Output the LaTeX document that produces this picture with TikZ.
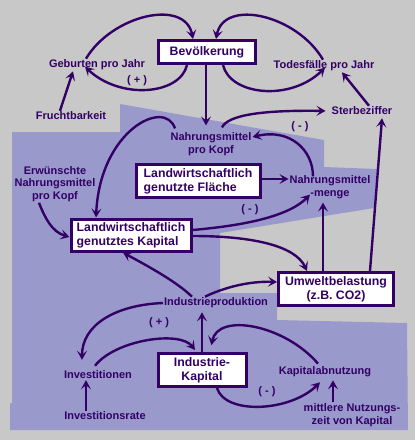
\documentclass[tikz,border=0pt]{standalone}
\usepackage{fontspec}
\setmainfont{Liberation Sans}
\usetikzlibrary{arrows.meta,calc}
\definecolor{bggray}{RGB}{200,200,200}
\definecolor{areablue}{RGB}{153,153,204}
\definecolor{ink}{RGB}{51,0,102}

\tikzset{
  box/.style={draw=ink,line width=3pt,fill=white,text=ink,inner sep=1pt,
    font=\fontsize{12.3}{14}\selectfont\bfseries},
  lbl/.style={text=ink,inner sep=1pt,align=center,
    font=\fontsize{11}{12.5}\selectfont\bfseries},
  arr/.style={draw=ink,line width=2.4pt,-{Stealth[length=9pt,width=10pt,inset=4pt]}},
}

\begin{document}
\begin{tikzpicture}[x=1pt,y=-1pt]
    % Background
    \useasboundingbox (0,0) rectangle (415,440);
    \fill[bggray] (0,0) rectangle (415,440);
    \fill[areablue] (12,132) -- (120,132) -- (120,104) -- (324,140) -- (324,167)
        -- (377,169) -- (374,208) -- (220,233) -- (220,293) -- (277,293) -- (277,320)
        -- (407,323) -- (408,430) -- (10,430) -- (10,403) -- (12,403) -- cycle;

    % Population
    \node[box,minimum width=97pt,minimum height=23pt] (bev) at (207,52) {Bevölkerung};
    \node[lbl] (geb) at (97,65) {Geburten pro Jahr};
    \node[lbl] (tod) at (324,66) {Todesfälle pro Jahr};
    \node[lbl] (plusbev) at (137,81) {( + )};
    \node[lbl] (frucht) at (71,116) {Fruchtbarkeit};
    \node[lbl] (sterb) at (362,111) {Sterbeziffer};
    \node[lbl] (minussterb) at (300,127) {( - )};

    % Food
    \node[lbl] (nkopf) at (211,144) {Nahrungsmittel\\pro Kopf};
    \node[box,align=left,minimum width=124pt,minimum height=33pt] (flaeche) at (198,181)
        {Landwirtschaftlich\\genutzte Fläche};
    \node[lbl] (nmenge) at (330,187) {Nahrungsmittel\\-menge};
    \node[lbl] (erw) at (55,184) {Erwünschte\\Nahrungsmittel\\pro Kopf};
    \node[lbl] (minusmenge) at (250,210) {( - )};
    \node[box,align=left,minimum width=120pt,minimum height=32pt] (kapital) at (131,235)
        {Landwirtschaftlich\\genutztes Kapital};
    \node[box,align=center,minimum width=115pt,minimum height=33pt] (umwelt) at (336,289)
        {Umweltbelastung\\(z.B. CO2)};

    % Industry
    \node[lbl] (indprod) at (216,303) {Industrieproduktion};
    \node[lbl] (plusind) at (159,323) {( + )};
    \node[box,align=center,minimum width=88pt,minimum height=33pt] (indkap) at (202,370)
        {Industrie-\\Kapital};
    \node[lbl] (invest) at (98,375) {Investitionen};
    \node[lbl] (invrate) at (105,416) {Investitionsrate};
    \node[lbl] (abnutz) at (325,372) {Kapitalabnutzung};
    \node[lbl] (minusabn) at (267,392) {( - )};
    \node[lbl] (nutz) at (352,415) {mittlere Nutzungs-\\zeit von Kapital};

    % Arrows around population
    \draw[arr] ([xshift=-11pt]geb.north) .. controls (112,15) and (185,-2) .. ([xshift=-14pt]bev.north);
    \draw[arr] ([xshift=-20pt]bev.south) .. controls (180,95) and (120,100) .. ([xshift=-12pt,yshift=-8pt]geb.north);
    \draw[arr] ([xshift=-1pt]tod.north) .. controls (297,15) and (224,-2) .. ([xshift=9pt]bev.north);
    \draw[arr] ([xshift=16pt]bev.south) .. controls (230,95) and (290,102) .. ([xshift=1pt,yshift=-8pt]tod.north);
    \draw[arr] ([xshift=-11pt]frucht.north) -- ([xshift=-24pt]geb.south);
    \draw[arr] ([xshift=7pt]sterb.north) -- ([xshift=18pt]tod.south);
    \draw[arr,shorten >=6pt] ([xshift=-1pt]bev.south) -- ([xshift=-5pt]nkopf.north);
    \draw[arr,shorten >=5pt] ([xshift=11pt,yshift=4pt]nkopf.north) .. controls (228,115) and (262,110) .. (sterb.west);

    % Arrows around food
    \draw[arr] ([xshift=-36pt,yshift=3pt]nkopf.north) .. controls (165,98) and (100,130) .. ([xshift=-35pt]kapital.north);
    \draw[arr] ([xshift=-17pt,yshift=-2pt]nmenge.north) .. controls (313,150) and (290,128) .. ([yshift=7pt]nkopf.east);
    \draw[arr] ([yshift=2pt]flaeche.east) -- ([yshift=8pt]nmenge.west);
    \draw[arr] ([yshift=5pt]kapital.east) .. controls (250,225) and (290,215) .. ([xshift=-20pt,yshift=5pt]nmenge.south);
    \draw[arr] ([yshift=-1pt]kapital.east) .. controls (250,236) and (295,245) .. ([xshift=-29pt]umwelt.north);
    \draw[arr,shorten >=3pt] ([xshift=-13pt]umwelt.north) -- ([xshift=-7pt]nmenge.south);
    \draw[arr] ([xshift=34pt]umwelt.north) -- ([xshift=20pt,yshift=-2pt]sterb.south);
    \draw[arr] ([xshift=-16pt]erw.south) .. controls (45,218) and (52,232) .. ([yshift=-2pt]kapital.west);

    % Arrows around industry
    \draw[arr] ([xshift=-24pt]indprod.north) .. controls (175,280) and (140,262) .. ([xshift=-8pt]kapital.south);
    \draw[arr] ([xshift=-11pt]indprod.north) .. controls (225,287) and (250,281) .. ([yshift=7pt]umwelt.west);
    \draw[arr] (indprod.west) .. controls (115,305) and (82,325) .. ([xshift=-16pt,yshift=10pt]invest.north);
    \draw[arr] ([xshift=-3pt,yshift=4pt]invest.north) .. controls (115,340) and (180,330) .. ([xshift=-7pt,yshift=2pt]indkap.north);
    \draw[arr,shorten >=3pt] (indkap.north) -- ([xshift=-14pt]indprod.south);
    \draw[arr,shorten >=7pt] ([xshift=-7pt,yshift=2pt]abnutz.north) .. controls (285,325) and (218,312) .. ([xshift=8pt]indkap.north);
    \draw[arr] ([xshift=15pt]indkap.south) .. controls (225,415) and (290,412) .. ([xshift=-5pt,yshift=-4pt]abnutz.south);
    \draw[arr] ([xshift=-19pt]nutz.north) -- ([xshift=8pt,yshift=-2pt]abnutz.south);
    \draw[arr] ([xshift=-19pt]invrate.north) -- ([xshift=-12pt]invest.south);
\end{tikzpicture}
\end{document}
